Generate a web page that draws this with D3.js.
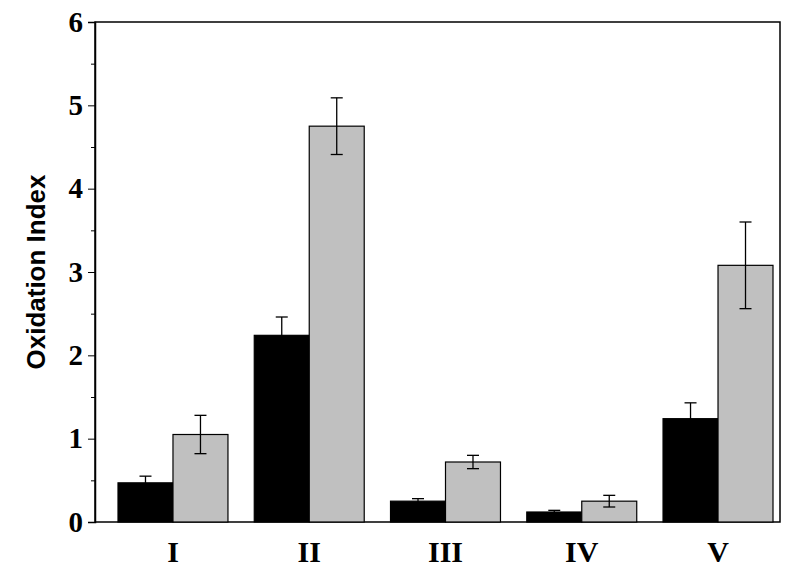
<!DOCTYPE html><html><head><meta charset="utf-8"><script src="https://cdn.jsdelivr.net/npm/d3@7"></script>
<style>body{margin:0;background:#fff}</style></head><body><svg id="c" width="800" height="576"></svg>
<script>
const categories=["I","II","III","IV","V"];
const blackVals=[0.47,2.24,0.25,0.12,1.24];
const blackErr=[0.08,0.22,0.03,0.02,0.19];
const greyVals=[1.05,4.75,0.72,0.25,3.08];
const greyErr=[0.23,0.34,0.08,0.07,0.52];
const yTicks=[0,1,2,3,4,5,6];
const svg=d3.select("#c");
const m={l:95,r:20,t:22,b:54},W=800,H=576;
const x=d3.scaleBand().domain(categories).range([118,773]).paddingInner(0.193).paddingOuter(0);
const y=d3.scaleLinear().domain([0,6]).range([H-m.b,m.t]);
const bw=x.bandwidth()/2;
svg.append("rect").attr("x",m.l).attr("y",m.t).attr("width",W-m.r-m.l).attr("height",H-m.b-m.t).attr("fill","none").attr("stroke","#000").attr("stroke-width",1.5);
const ya=svg.append("g").attr("transform",`translate(${m.l},0)`).call(d3.axisLeft(y).tickValues(yTicks).tickSize(7).tickFormat(d3.format("d")));
ya.select(".domain").attr("stroke-width",1.5);
ya.selectAll("text").attr("font-family","Liberation Serif").attr("font-weight","bold").attr("font-size",29).attr("dx",-2).attr("fill","#000");
svg.append("g").attr("transform",`translate(${m.l},0)`).call(d3.axisLeft(y).tickValues(d3.range(0.5,6,1)).tickSize(4).tickFormat("")).select(".domain").remove();
const series=[{v:blackVals,e:blackErr,c:"#000",o:0},{v:greyVals,e:greyErr,c:"#c0c0c0",o:1}];
series.forEach(s=>{
 const g=svg.append("g");
 categories.forEach((c,i)=>{
  const x0=x(c)+s.o*bw;
  g.append("rect").attr("x",x0).attr("y",y(s.v[i])).attr("width",bw).attr("height",y(0)-y(s.v[i])).attr("fill",s.c).attr("stroke","#000").attr("stroke-width",1.2);
  const cx=x0+bw/2;
  g.append("line").attr("x1",cx).attr("x2",cx).attr("y1",y(s.v[i]+s.e[i])).attr("y2",y(s.v[i]-s.e[i])).attr("stroke","#000").attr("stroke-width",1.3);
  [s.v[i]+s.e[i],s.v[i]-s.e[i]].forEach(v=>g.append("line").attr("x1",cx-6).attr("x2",cx+6).attr("y1",y(v)).attr("y2",y(v)).attr("stroke","#000").attr("stroke-width",1.3));
 });
});
categories.forEach(c=>svg.append("text").attr("x",x(c)+bw).attr("y",H-m.b+40).attr("text-anchor","middle").attr("font-family","Liberation Serif").attr("font-weight","bold").attr("font-size",30).text(c));
svg.append("text").attr("transform",`translate(45,${(m.t+H-m.b)/2}) rotate(-90)`).attr("text-anchor","middle").attr("font-family","Liberation Sans").attr("font-weight","bold").attr("font-size",26).text("Oxidation Index");
</script></body></html>
